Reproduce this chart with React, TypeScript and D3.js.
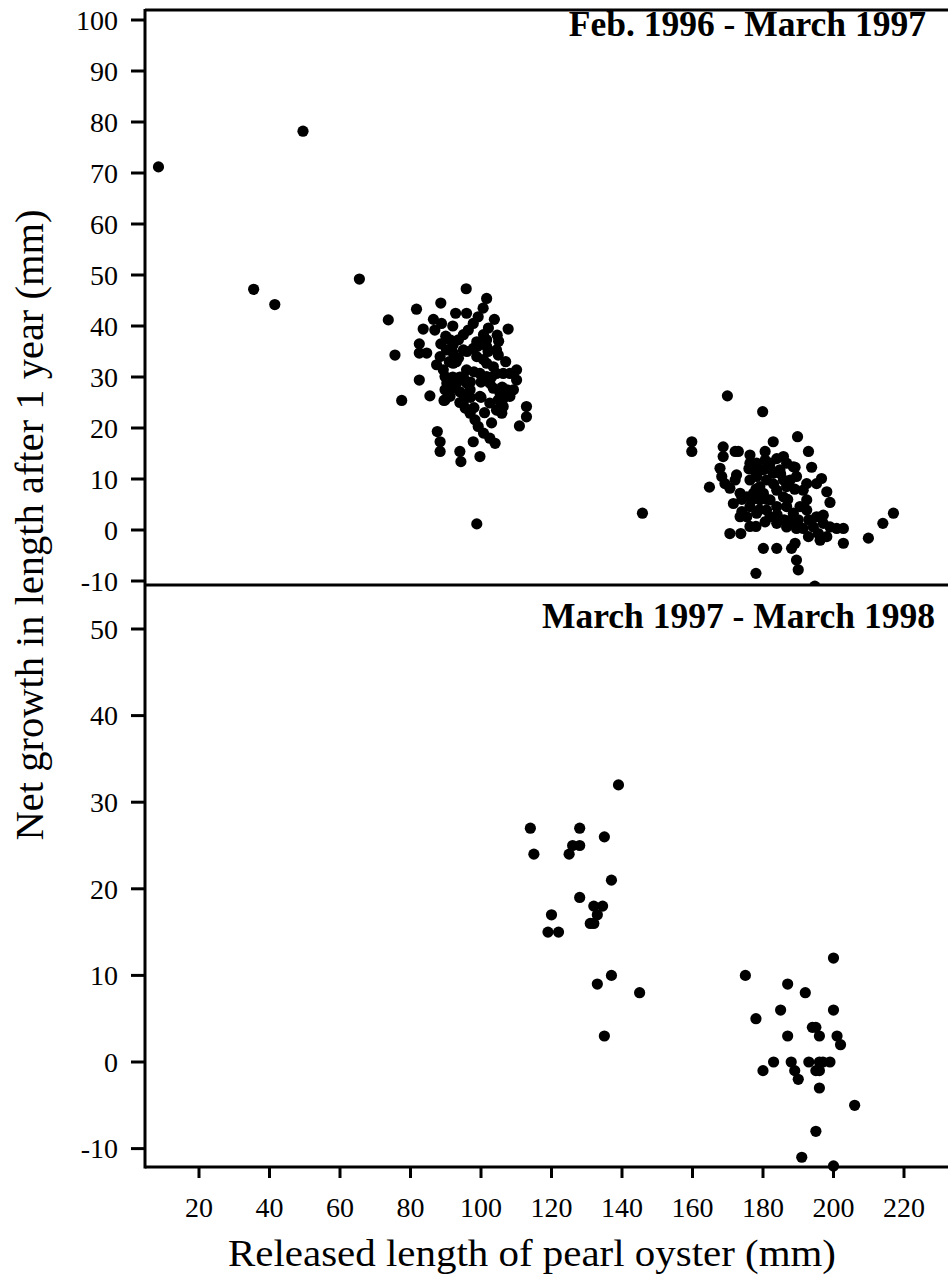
import React from "react";
import * as d3 from "d3";

// Released length (mm) and net growth after one year (mm), Feb. 1996 - March 1997
const releasedLength9697: number[] = [
  8.5, 49.5, 35.5, 41.5, 65.5, 98.8, 145.8,
  95.8, 101.6, 100.6, 99.2, 97.8, 96.4, 95.0, 93.6, 103.8, 107.7,
  92.8, 95.9, 88.6, 81.7, 86.5, 88.8, 86.9, 83.6, 73.7, 91.2, 92.1,
  100.7, 101.6, 104.4, 104.9, 82.5, 82.5, 84.6, 88.6, 90.2, 92.1, 75.6,
  97.8, 98.8, 100.7, 101.6, 87.4, 89.3, 89.8, 90.3, 89.8, 89.8, 92.1,
  93.6, 95.9, 95.0, 95.9, 96.9, 95.9, 93.1, 92.1, 94.0, 99.7, 101.6,
  102.5, 103.5, 105.4, 104.9, 106.3, 105.9, 104.4, 104.4, 106.3, 108.2,
  110.1, 107.3, 109.2, 108.2, 106.3, 82.5, 85.5, 77.5, 89.5, 95.0, 95.5,
  96.9, 98.3, 99.2, 100.7, 102.5, 104.0, 97.8, 112.9, 112.9, 110.9, 87.6,
  88.4, 88.4, 94.0, 94.3, 99.7, 110.1, 101.6, 98.8, 95.0, 103.5, 88.4,
  91.2, 99.7, 102.5, 102.1, 104.6,
  93, 96, 98, 100, 97, 94, 99, 102, 103, 100, 98, 97, 94, 92, 91, 101,
  103, 106, 107, 105, 90, 92,
  169.9, 179.9, 159.8, 159.8, 189.8, 182.9, 168.7, 168.7, 172.1, 173.0,
  176.3, 180.6, 192.9, 193.8, 189.1, 167.8, 168.3, 169.2, 170.6, 172.1,
  172.5, 164.8, 196.6, 195.2, 198.1, 199.0, 171.6, 174.0, 173.5, 170.6,
  173.7, 178.0, 180.1, 183.9, 189.1, 188.1, 189.5, 190.0, 178.0, 194.7,
  202.8, 202.8, 209.9, 214.0, 217.0, 198.1, 199.0, 197.1, 195.2, 194.3,
  195.7, 192.4, 192.4, 183.9, 186.7, 187.7, 189.5, 191.4, 200.9, 176.3,
  178.2, 180.1, 182.0, 183.9, 185.8, 180.6, 178.2, 177.3, 179.1, 177.3,
  179.1, 176.3, 175.4, 178.2, 181.0, 182.0, 183.9, 185.8, 186.7, 187.7,
  189.5, 185.8, 183.9, 186.7, 188.6, 191.4, 192.4, 190.5, 180.1, 175.4,
  173.5, 181.0, 182.0, 188.6, 186.7, 184.8, 182.9, 176.3, 197.1, 176.3,
  180.6, 192.9, 196.2,
  176, 178, 181, 183, 185, 187, 189, 184, 182, 179, 186, 190, 193, 174, 177,
];
const netGrowth9697: number[] = [
  71.2, 78.2, 47.2, 44.2, 49.2, 1.2, 3.3,
  47.3, 45.4, 43.5, 41.8, 40.5, 39.2, 38.3, 37.3, 41.3, 39.4,
  42.5, 42.5, 44.5, 43.3, 41.3, 40.5, 39.2, 39.4, 41.2, 37.3, 36.3,
  38.3, 37.3, 35.3, 34.3, 36.5, 34.7, 34.7, 36.5, 35.3, 34.7, 34.3,
  35.6, 34.0, 33.4, 32.7, 32.4, 31.4, 30.1, 28.8, 27.5, 25.5, 32.7,
  33.7, 31.4, 30.1, 28.8, 27.5, 26.2, 28.8, 27.8, 27.1, 30.7, 30.1,
  28.8, 27.8, 26.8, 25.5, 24.2, 22.9, 23.5, 30.7, 30.7, 30.7,
  31.4, 27.5, 27.5, 26.2, 25.8, 29.4, 26.3, 25.4, 25.4, 25.2, 23.9,
  22.9, 21.6, 20.3, 19.0, 18.0, 17.0, 17.3, 24.2, 22.2, 20.4, 19.3,
  17.3, 15.4, 15.4, 13.4, 14.4, 29.4, 36.0, 36.9, 35.3, 32.0, 34.0,
  26.2, 26.2, 24.9, 39.6, 38.2,
  33, 35, 31, 29, 29, 30, 36, 35, 30, 26, 24, 26, 25, 30, 33, 23,
  21, 28, 33, 37, 38, 40,
  26.3, 23.2, 17.3, 15.4, 18.3, 17.3, 16.3, 14.4, 15.4, 15.4,
  14.7, 15.4, 15.4, 12.3, 12.3, 12.1, 10.5, 9.1, 8.2, 9.8,
  10.8, 8.4, 10.1, 9.1, 7.5, 5.4, 5.2, 3.6, 2.6, -0.7,
  -0.7, 0.7, -3.6, -3.6, -2.6, -3.6, -5.9, -7.8, -8.5, -11.0,
  0.3, -2.6, -1.6, 1.3, 3.3, -1.3, 0.6, 1.3, 2.6, 0.6,
  -0.7, 3.9, 5.9, 1.3, 0.6, 1.9, 0.3, 0.3, 0.3, 9.8,
  10.5, 11.8, 13.1, 14.0, 14.4, 13.7, 13.1, 11.8, 8.5, 7.2,
  5.9, 4.6, 2.6, 3.3, 3.9, 2.6, 4.6, 6.5, 8.5, 9.8,
  10.5, 9.8, 7.8, 4.6, 3.3, 7.8, 9.1, 4.6, 7.2, 6.5,
  7.2, 9.8, 5.9, 12.4, 13.1, 11.8, 11.1, 13.1, 2.9, 0.7,
  1.6, -1.3, -2.0,
  12, 8, 6, 9, 11, 6, 8, 3, 12, 4, 2, 2, 2, 6, 6,
];

// March 1997 - March 1998
const releasedLength9798: number[] = [
  139, 114, 128, 135, 115, 125, 126, 128, 137, 128, 132, 134.5, 133,
  131, 132, 120, 119, 122, 137, 133, 145, 135,
  200, 175, 187, 192, 185, 200, 178, 194, 195, 187, 196, 201, 202,
  183, 188, 193, 196, 197, 199, 180, 189, 195, 196, 190, 196, 206,
  195, 191, 200,
];
const netGrowth9798: number[] = [
  32, 27, 27, 26, 24, 24, 25, 25, 21, 19, 18, 18, 17,
  16, 16, 17, 15, 15, 10, 9, 8, 3,
  12, 10, 9, 8, 6, 6, 5, 4, 4, 3, 3, 3, 2,
  0, 0, 0, 0, 0, 0, -1, -1, -1, -1, -2, -3, -5,
  -8, -11, -12,
];

const xTicks: number[] = [20, 40, 60, 80, 100, 120, 140, 160, 180, 200, 220];
const yTicksTop: number[] = [-10, 0, 10, 20, 30, 40, 50, 60, 70, 80, 90, 100];
const yTicksBottom: number[] = [-10, 0, 10, 20, 30, 40, 50];

const panelTitleTop = "Feb. 1996 - March 1997";
const panelTitleBottom = "March 1997 - March 1998";
const xTitle = "Released length of pearl oyster (mm)";
const yTitle = "Net growth in length after 1 year (mm)";

const W = 948;
const H = 1278;
const axisX = 145;
const rightX = 948;
const topY = 10;
const midY = 585;
const bottomY = 1167;
const serif = "'Liberation Serif', 'Times New Roman', Times, serif";
const sw = 3;
const r = 5.6;
const tickFont = 28;

export default function App() {
  const x = d3.scaleLinear().domain([20, 220]).range([199, 904]);
  const yTop = d3.scaleLinear().domain([0, 100]).range([530, 20]);
  const yBot = d3.scaleLinear().domain([0, 50]).range([1062, 629]);

  const top = d3.zip(releasedLength9697, netGrowth9697);
  const bot = d3.zip(releasedLength9798, netGrowth9798);

  return (
    <svg
      width={W}
      height={H}
      viewBox={`0 0 ${W} ${H}`}
      style={{ position: "absolute", left: 0, top: 0, background: "#fff" }}
    >
      <defs>
        <clipPath id="topPanel">
          <rect x={axisX} y={topY} width={rightX - axisX} height={midY - topY} />
        </clipPath>
      </defs>
      <rect x={0} y={0} width={W} height={H} fill="#fff" />

      {/* points */}
      <g clipPath="url(#topPanel)">
        {top.map(([a, b], i) => (
          <circle key={`t${i}`} cx={x(a)} cy={yTop(b)} r={r} fill="#000" />
        ))}
      </g>
      <g>
        {bot.map(([a, b], i) => (
          <circle key={`b${i}`} cx={x(a)} cy={yBot(b)} r={r} fill="#000" />
        ))}
      </g>

      {/* frame */}
      <g stroke="#000" strokeWidth={sw} fill="none">
        <line x1={axisX} x2={axisX} y1={topY - 1} y2={bottomY + 1.5} />
        <line x1={axisX} x2={rightX} y1={topY} y2={topY} />
        <line x1={axisX} x2={rightX} y1={midY} y2={midY} />
        <line x1={axisX} x2={rightX} y1={bottomY} y2={bottomY} />
      </g>

      {/* y ticks, upper panel */}
      <g>
        {yTicksTop.map((t) => (
          <g key={`yt${t}`}>
            <line x1={131} x2={axisX} y1={yTop(t)} y2={yTop(t)} stroke="#000" strokeWidth={sw} />
            <text x={118} y={yTop(t)} dy="0.35em" textAnchor="end" fontFamily={serif} fontSize={tickFont}>
              {t}
            </text>
          </g>
        ))}
      </g>

      {/* y ticks, lower panel */}
      <g>
        {yTicksBottom.map((t) => (
          <g key={`yb${t}`}>
            <line x1={131} x2={axisX} y1={yBot(t)} y2={yBot(t)} stroke="#000" strokeWidth={sw} />
            <text x={118} y={yBot(t)} dy="0.35em" textAnchor="end" fontFamily={serif} fontSize={tickFont}>
              {t}
            </text>
          </g>
        ))}
      </g>

      {/* x ticks */}
      <g>
        {xTicks.map((t) => (
          <g key={`x${t}`}>
            <line x1={x(t)} x2={x(t)} y1={bottomY} y2={bottomY + 11} stroke="#000" strokeWidth={sw} />
            <text x={x(t)} y={1217} textAnchor="middle" fontFamily={serif} fontSize={tickFont}>
              {t}
            </text>
          </g>
        ))}
      </g>

      {/* panel titles */}
      <text x={926} y={36} textAnchor="end" fontFamily={serif} fontWeight="bold" fontSize={35.5}>
        {panelTitleTop}
      </text>
      <text x={935} y={628} textAnchor="end" fontFamily={serif} fontWeight="bold" fontSize={35.5}>
        {panelTitleBottom}
      </text>

      {/* axis titles */}
      <text
        x={532}
        y={1266}
        textAnchor="middle"
        fontFamily={serif}
        fontSize={38}
        textLength={608}
        lengthAdjust="spacingAndGlyphs"
      >
        {xTitle}
      </text>
      <text
        transform={`translate(43, 525) rotate(-90)`}
        textAnchor="middle"
        fontFamily={serif}
        fontSize={40.5}
      >
        {yTitle}
      </text>
    </svg>
  );
}
